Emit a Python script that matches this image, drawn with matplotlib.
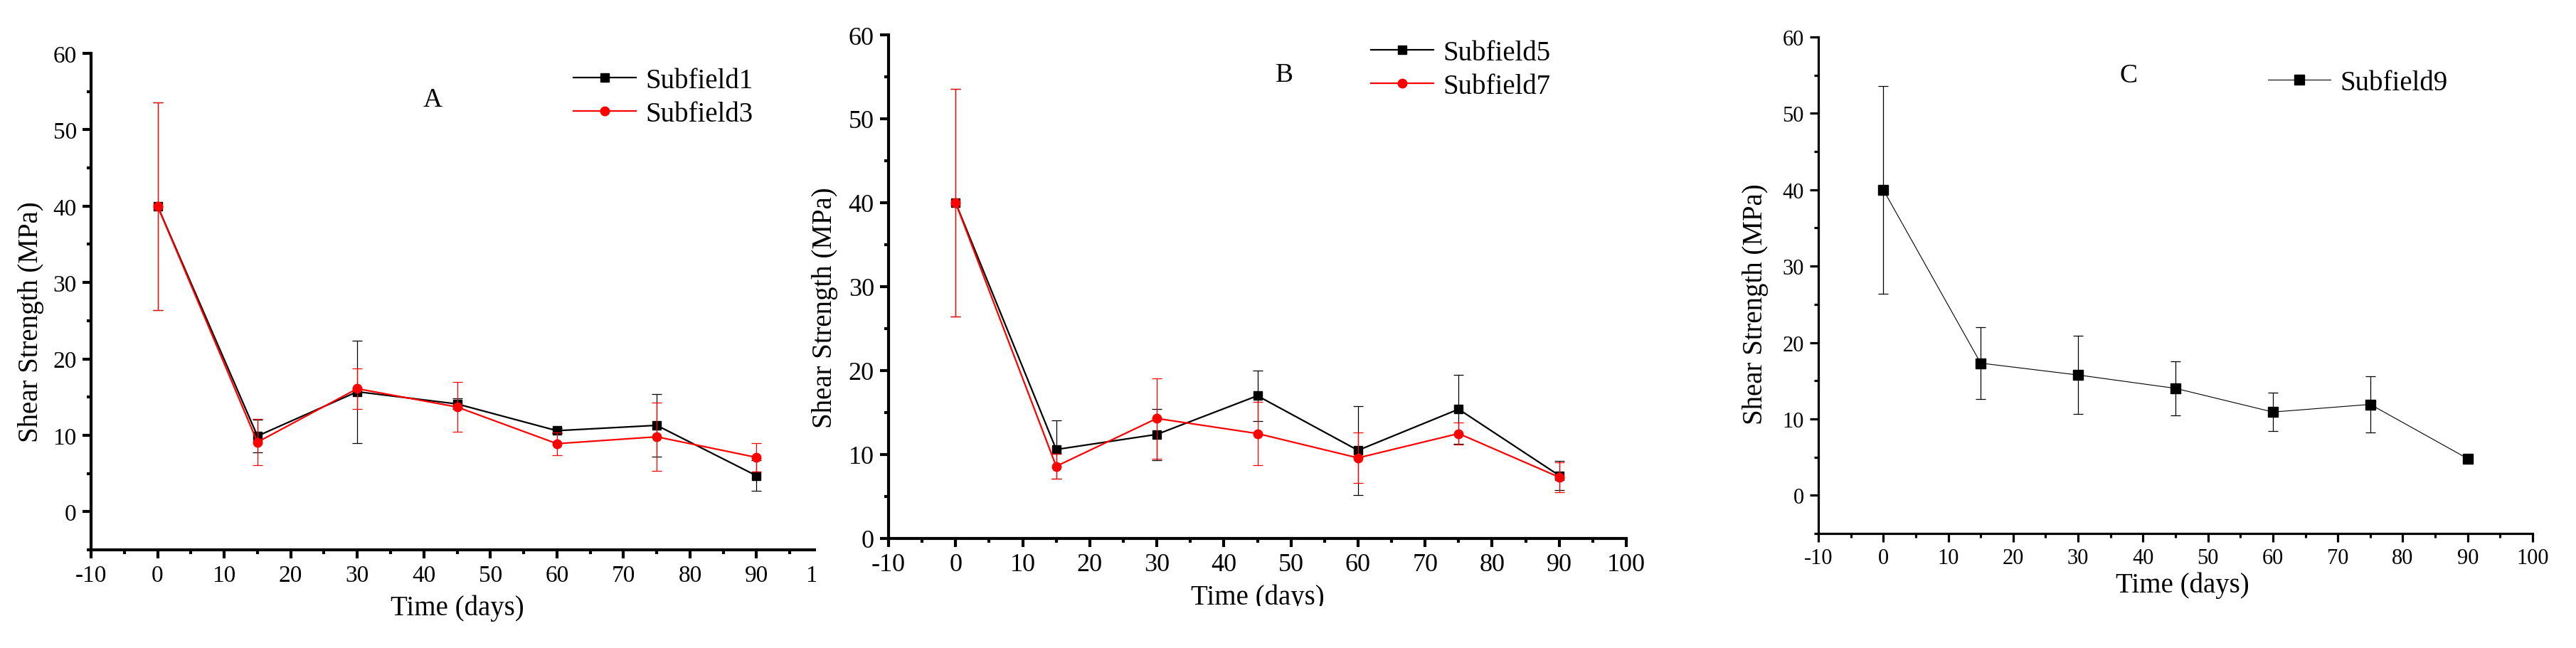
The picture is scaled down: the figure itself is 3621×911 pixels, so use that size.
import matplotlib
matplotlib.use('Agg')
import matplotlib.pyplot as plt
from matplotlib.patches import Rectangle
from matplotlib.ticker import MultipleLocator

plt.rcParams['font.family'] = ['Liberation Serif', 'DejaVu Serif']
plt.rcParams['axes.unicode_minus'] = False

W, H = 3621, 912

days = [0, 15, 30, 45, 60, 75, 90]

# panel A
sub1 = [40.0, 9.9, 15.7, 14.1, 10.6, 11.3, 4.7]
sub1_err = [13.6, 2.1, 6.7, 0.7, 0.3, 4.1, 2.0]
sub3 = [40.0, 9.1, 16.1, 13.7, 8.9, 9.8, 7.1]
sub3_err = [13.6, 3.0, 2.65, 3.25, 1.5, 4.5, 1.9]

# panel B
sub5 = [40.0, 10.6, 12.4, 17.0, 10.5, 15.4, 7.5]
sub5_err = [13.6, 3.5, 3.05, 3.0, 5.3, 4.1, 1.7]
sub7 = [40.0, 8.6, 14.3, 12.5, 9.6, 12.5, 7.3]
sub7_err = [13.6, 1.5, 4.8, 3.8, 3.0, 1.3, 1.8]

# panel C
sub9 = [40.0, 17.3, 15.75, 14.0, 10.9, 11.9, 4.8]
sub9_err = [13.6, 4.7, 5.1, 3.5, 2.5, 3.7, 0.5]


def px_rect(left, top, right, bottom):
    return [left / W, 1 - bottom / H, (right - left) / W, (bottom - top) / H]


def style(ax, ymin, tick_size, lw):
    ax.set_xlim(-10, 100)
    ax.set_ylim(ymin, 60)
    for side in ('top', 'right'):
        ax.spines[side].set_visible(False)
    for side in ('left', 'bottom'):
        ax.spines[side].set_linewidth(lw)
    ax.xaxis.set_major_locator(MultipleLocator(10))
    ax.xaxis.set_minor_locator(MultipleLocator(5))
    ax.yaxis.set_major_locator(MultipleLocator(10))
    ax.yaxis.set_minor_locator(MultipleLocator(5))
    ax.tick_params(which='major', direction='out', length=8.5, width=lw,
                   labelsize=tick_size, pad=6)
    ax.tick_params(which='minor', direction='out', length=4.3, width=lw)
    ax.set_xlabel('Time (days)', fontsize=28)
    ax.set_ylabel('Shear Strength (MPa)', fontsize=28)


def series(ax, y, err, color, marker, ms, lw, label):
    ax.errorbar(days, y, yerr=err, fmt='none', ecolor=color, elinewidth=0.9,
                capsize=5, capthick=0.9)
    ax.plot(days, y, color=color, marker=marker, ms=ms, lw=lw, label=label)


fig = plt.figure(figsize=(W / 100, H / 100), dpi=100)

ax_a = fig.add_axes(px_rect(128, 76, 1157, 774))
ax_b = fig.add_axes(px_rect(1249, 50, 2286, 758))
ax_c = fig.add_axes(px_rect(2556, 53, 3560, 751))

series(ax_a, sub1, sub1_err, 'black', 's', 8, 1.6, 'Subfield1')
series(ax_a, sub3, sub3_err, 'red', 'o', 9, 1.6, 'Subfield3')
style(ax_a, -5, 24, 3)
ax_a.text(41.3, 54, 'A', fontsize=27, ha='center', va='center')

series(ax_b, sub5, sub5_err, 'black', 's', 8, 1.6, 'Subfield5')
series(ax_b, sub7, sub7_err, 'red', 'o', 9, 1.6, 'Subfield7')
style(ax_b, 0, 26, 3)
ax_b.text(49, 55.3, 'B', fontsize=27, ha='center', va='center')

series(ax_c, sub9, sub9_err, 'black', 's', 10, 0.8, 'Subfield9')
style(ax_c, -5, 22, 2.3)
ax_c.text(37.8, 55, 'C', fontsize=27, ha='center', va='center')

ax_a.yaxis.set_label_coords(-0.064, 0.461)
ax_b.yaxis.set_label_coords(-0.0685, 0.459)
ax_c.yaxis.set_label_coords(-0.0697, 0.464)
ax_a.xaxis.set_label_coords(0.5, -0.089)
ax_b.xaxis.set_label_coords(0.5, -0.090)
ax_c.xaxis.set_label_coords(0.51, -0.076)

legend_kw = dict(loc='upper left', bbox_transform=fig.transFigure,
                 frameon=False, fontsize=28, handlelength=2.25,
                 handletextpad=0.35, labelspacing=0.25, borderpad=0,
                 borderaxespad=0, numpoints=1)
ax_a.legend(bbox_to_anchor=(806 / W, 1 - 96 / H), **legend_kw)
ax_b.legend(bbox_to_anchor=(1927 / W, 1 - 57 / H), **legend_kw)
ax_c.legend(bbox_to_anchor=(3188 / W, 1 - 99 / H), **legend_kw)

# panel A was cropped on the right, panel B's x label at the bottom
ax_b.set_zorder(2)
fig.add_artist(Rectangle((1147 / W, 0), 93 / W, 1, transform=fig.transFigure,
                         facecolor='white', edgecolor='none', zorder=1.5))
fig.add_artist(Rectangle((1240 / W, 0), 1060 / W, (H - 853) / H,
                         transform=fig.transFigure, facecolor='white',
                         edgecolor='none', zorder=3))

fig.savefig('out.png', dpi=100)
